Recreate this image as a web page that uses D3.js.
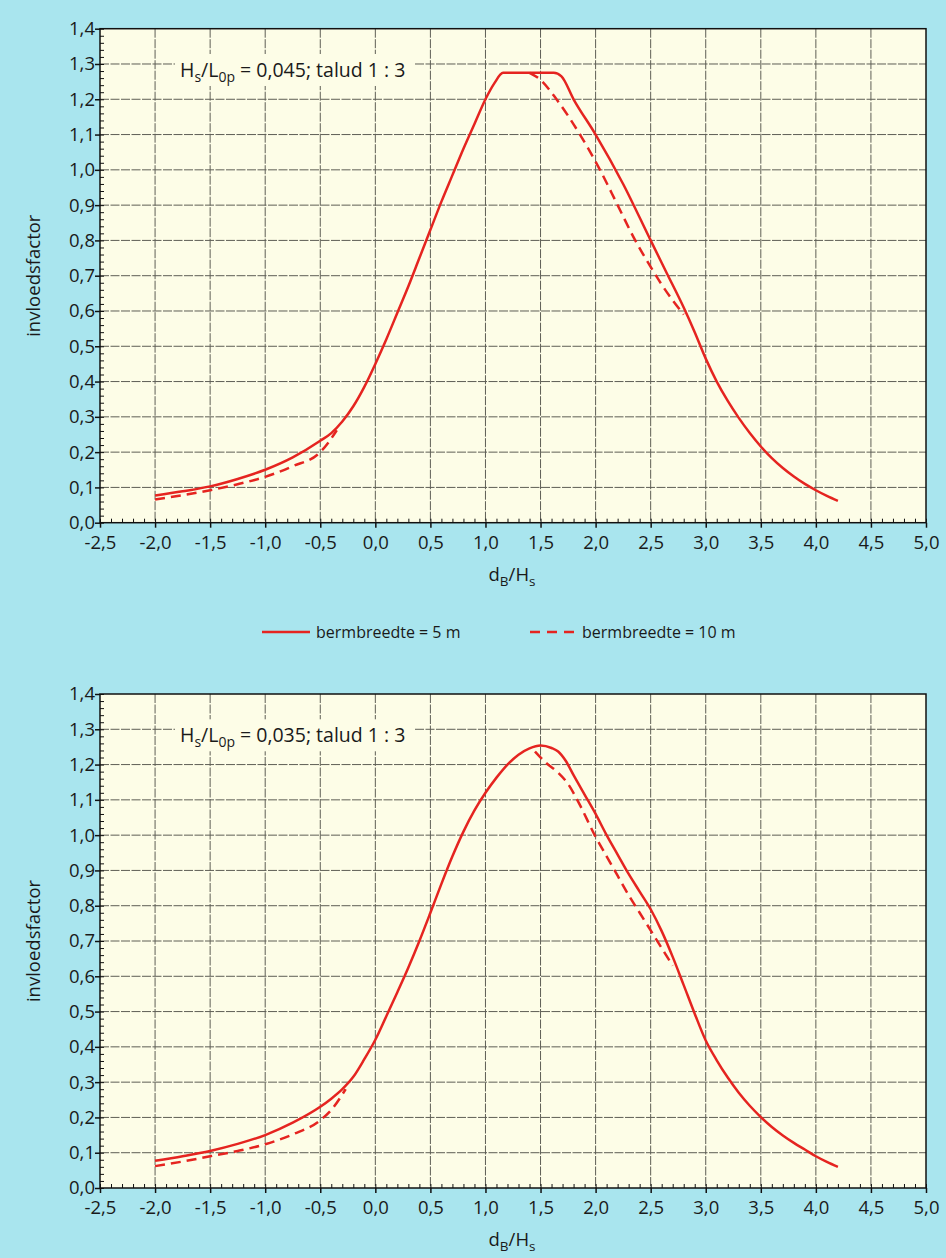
<!DOCTYPE html>
<html>
<head>
<meta charset="utf-8">
<script src="https://cdn.jsdelivr.net/npm/d3@7"></script>
<style>
  body { margin: 0; background: #a9e5ee; }
  svg text { font-family: "Open Sans", sans-serif; fill: #1a1a1a; }
</style>
</head>
<body>
<svg id="root" width="946" height="1258"></svg>
<script>
// tick values
const xTicks = [-2.5, -2.0, -1.5, -1.0, -0.5, 0.0, 0.5, 1.0, 1.5, 2.0, 2.5, 3.0, 3.5, 4.0, 4.5, 5.0];
const yTicks = [0, 0.1, 0.2, 0.3, 0.4, 0.5, 0.6, 0.7, 0.8, 0.9, 1.0, 1.1, 1.2, 1.3, 1.4];

// top panel: Hs/L0p = 0,045
const topSolidX = [-2.0, -1.75, -1.5, -1.25, -1.0, -0.75, -0.5, -0.4, -0.3, -0.2, -0.1, 0.0, 0.1, 0.2, 0.3, 0.4, 0.5, 0.6, 0.7, 0.8, 0.9, 1.0, 1.08, 1.16, 1.62, 1.69, 1.8, 2.0, 2.25, 2.5, 2.65, 2.8, 2.9, 3.0, 3.1, 3.2, 3.3, 3.4, 3.5, 3.6, 3.7, 3.8, 3.9, 4.0, 4.1, 4.2];
const topSolidY = [0.077, 0.089, 0.103, 0.124, 0.150, 0.185, 0.232, 0.254, 0.287, 0.330, 0.385, 0.450, 0.520, 0.595, 0.670, 0.750, 0.830, 0.910, 0.985, 1.060, 1.130, 1.200, 1.245, 1.275, 1.275, 1.265, 1.200, 1.100, 0.960, 0.800, 0.705, 0.610, 0.540, 0.465, 0.400, 0.345, 0.297, 0.254, 0.216, 0.183, 0.155, 0.131, 0.110, 0.092, 0.076, 0.062];
const topDashX = [-2.0, -1.75, -1.5, -1.25, -1.0, -0.75, -0.5, -0.42, -0.35, 0.5, 1.40, 1.5, 1.645, 1.858, 2.04, 2.2, 2.36, 2.5, 2.6, 2.7, 2.8];
const topDashY = [0.066, 0.078, 0.092, 0.109, 0.130, 0.160, 0.200, 0.230, 0.262, null, 1.275, 1.255, 1.200, 1.100, 1.000, 0.900, 0.800, 0.725, 0.675, 0.630, 0.590];

// bottom panel: Hs/L0p = 0,035
const botSolidX = [-2.0, -1.75, -1.5, -1.25, -1.0, -0.75, -0.5, -0.4, -0.3, -0.2, -0.1, 0.0, 0.1, 0.2, 0.3, 0.4, 0.5, 0.6, 0.7, 0.8, 0.9, 1.0, 1.1, 1.2, 1.3, 1.4, 1.5, 1.6, 1.66, 1.73, 1.8, 1.9, 2.0, 2.1, 2.2, 2.3, 2.4, 2.5, 2.6, 2.7, 2.8, 2.9, 3.0, 3.1, 3.2, 3.3, 3.4, 3.5, 3.6, 3.7, 3.8, 3.9, 4.0, 4.1, 4.2];
const botSolidY = [0.077, 0.090, 0.105, 0.125, 0.150, 0.185, 0.230, 0.253, 0.280, 0.315, 0.365, 0.420, 0.487, 0.555, 0.625, 0.700, 0.780, 0.862, 0.940, 1.010, 1.070, 1.120, 1.163, 1.200, 1.228, 1.246, 1.254, 1.247, 1.237, 1.210, 1.170, 1.115, 1.060, 1.000, 0.945, 0.890, 0.840, 0.790, 0.728, 0.655, 0.575, 0.494, 0.418, 0.362, 0.313, 0.270, 0.233, 0.201, 0.173, 0.149, 0.128, 0.109, 0.090, 0.074, 0.060];
const botDashX = [-2.0, -1.75, -1.5, -1.25, -1.0, -0.75, -0.5, -0.39, -0.27, 0.5, 1.45, 1.55, 1.65, 1.75, 1.85, 2.0, 2.1, 2.2, 2.3, 2.4, 2.5, 2.6, 2.7];
const botDashY = [0.062, 0.075, 0.090, 0.105, 0.124, 0.152, 0.192, 0.225, 0.280, null, 1.237, 1.205, 1.180, 1.145, 1.090, 0.995, 0.940, 0.885, 0.830, 0.780, 0.730, 0.680, 0.630];

const legendLabels = ["bermbreedte = 5 m", "bermbreedte = 10 m"];

var L = 100, W = 826, H = 494;
var red = "#e52420", plotBg = "#fdfde7", gridCol = "#5e5e55";

var nl = d3.formatLocale({decimal: ",", thousands: ".", grouping: [3], currency: ["", ""], minus: "-"});
var fmt = nl.format(".1f");

var svg = d3.select("#root");

function drawPanel(top, ratio, solidX, solidY, dashX, dashY) {
  var g = svg.append("g").attr("transform", "translate(" + L + "," + top + ")");
  var x = d3.scaleLinear().domain([-2.5, 5]).range([0, W]);
  var y = d3.scaleLinear().domain([0, 1.4]).range([H, 0]);

  g.append("rect").attr("width", W).attr("height", H).attr("fill", plotBg);

  // grid
  g.append("g").selectAll("line").data(xTicks.slice(1, -1)).enter().append("line")
    .attr("x1", d => x(d)).attr("x2", d => x(d)).attr("y1", 0).attr("y2", H)
    .attr("stroke", gridCol).attr("stroke-width", 1).attr("stroke-dasharray", "9,1.5");
  g.append("g").selectAll("line").data(yTicks.slice(1, -1)).enter().append("line")
    .attr("y1", d => y(d)).attr("y2", d => y(d)).attr("x1", 0).attr("x2", W)
    .attr("stroke", gridCol).attr("stroke-width", 1).attr("stroke-dasharray", "9,1.5");

  // title box
  g.append("rect").attr("x", 75).attr("y", y(1.3) - 10).attr("width", 240).attr("height", 32).attr("fill", plotBg);
  var t = g.append("text").attr("x", 80).attr("y", y(1.3) + 13).style("font-size", "19.5px");
  t.append("tspan").text("H");
  t.append("tspan").attr("dy", 5).style("font-size", "14px").text("s");
  t.append("tspan").attr("dy", -5).text("/L");
  t.append("tspan").attr("dy", 5).style("font-size", "14px").text("0p");
  t.append("tspan").attr("dy", -5).text(" = " + ratio + "; talud 1 : 3");

  // curves
  var line = d3.line()
    .defined(d => d[1] != null)
    .x(d => x(d[0])).y(d => y(d[1]))
    .curve(d3.curveMonotoneX);

  g.append("path").datum(solidX.map((v, i) => [v, solidY[i]]))
    .attr("d", line).attr("fill", "none").attr("stroke", red).attr("stroke-width", 2.5)
    .attr("stroke-linejoin", "round");
  g.append("path").datum(dashX.map((v, i) => [v, dashY[i]]))
    .attr("d", line).attr("fill", "none").attr("stroke", red).attr("stroke-width", 2.5)
    .attr("stroke-dasharray", "10,6");

  // frame
  g.append("rect").attr("width", W).attr("height", H).attr("fill", "none")
    .attr("stroke", "#111").attr("stroke-width", 1.5);

  // minor ticks
  var minorX = d3.range(-25, 51).map(i => i / 10);
  var minorY = d3.range(0, 71).map(i => i / 50);
  g.append("g").attr("transform", "translate(0," + H + ")")
    .call(d3.axisBottom(x).tickValues(minorX).tickSize(-4).tickFormat(""))
    .call(a => a.select(".domain").remove())
    .selectAll("line").attr("stroke", "#111");
  g.append("g")
    .call(d3.axisLeft(y).tickValues(minorY).tickSize(-4).tickFormat(""))
    .call(a => a.select(".domain").remove())
    .selectAll("line").attr("stroke", "#111");

  // major axes
  var xa = g.append("g").attr("transform", "translate(0," + H + ")")
    .call(d3.axisBottom(x).tickValues(xTicks).tickSize(5).tickPadding(8).tickFormat(fmt));
  xa.select(".domain").remove();
  xa.selectAll("line").attr("stroke", "#111").attr("stroke-width", 1.5);
  xa.selectAll("text").style("font-size", "18.5px").attr("fill", "#1a1a1a");

  var ya = g.append("g")
    .call(d3.axisLeft(y).tickValues(yTicks).tickSize(5).tickPadding(0).tickFormat(fmt));
  ya.select(".domain").remove();
  ya.selectAll("line").attr("stroke", "#111").attr("stroke-width", 1.5);
  ya.selectAll("text").style("font-size", "18.5px").attr("fill", "#1a1a1a");

  // axis titles
  g.append("text").attr("transform", "translate(-60," + (H / 2) + ")rotate(-90)")
    .attr("text-anchor", "middle").style("font-size", "18.5px").text("invloedsfactor");
  var xl = g.append("text").attr("x", W / 2 - 1).attr("y", H + 58)
    .attr("text-anchor", "middle").style("font-size", "18.5px");
  xl.append("tspan").text("d");
  xl.append("tspan").attr("dy", 5).style("font-size", "13.5px").text("B");
  xl.append("tspan").attr("dy", -5).text("/H");
  xl.append("tspan").attr("dy", 5).style("font-size", "13.5px").text("s");
}

drawPanel(28.7, "0,045", topSolidX, topSolidY, topDashX, topDashY);
drawPanel(694, "0,035", botSolidX, botSolidY, botDashX, botDashY);

// legend
var lg = svg.append("g").attr("transform", "translate(0,632)");
lg.append("line").attr("x1", 262).attr("x2", 310).attr("stroke", red).attr("stroke-width", 2.5);
lg.append("text").attr("x", 316).attr("y", 6).style("font-size", "16px").text(legendLabels[0]);
lg.append("line").attr("x1", 530).attr("x2", 576).attr("stroke", red).attr("stroke-width", 2.5)
  .attr("stroke-dasharray", "10,7");
lg.append("text").attr("x", 582).attr("y", 6).style("font-size", "16px").text(legendLabels[1]);
</script>
</body>
</html>
